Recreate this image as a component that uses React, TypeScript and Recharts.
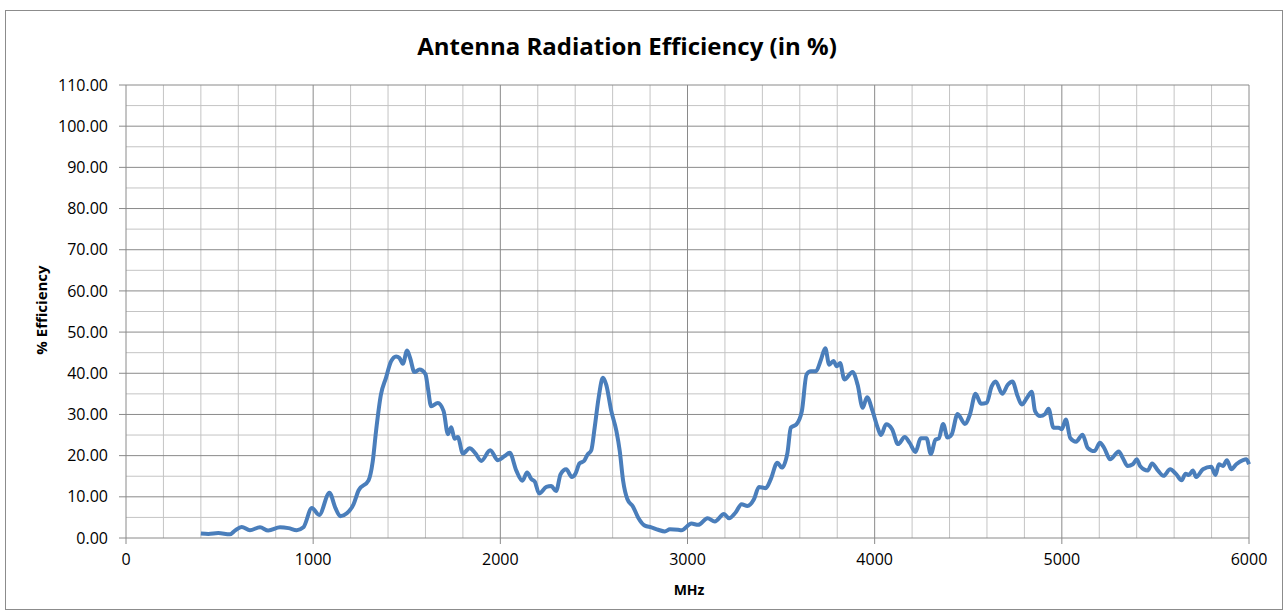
import React from 'react';
import { LineChart, Line, XAxis, YAxis, ReferenceLine } from 'recharts';

const freqMHz = [
  400, 440, 493, 555, 582, 618, 662, 716, 760, 823, 868, 912, 948, 993, 1032, 1087, 1118, 1145, 1180, 1216,
  1243, 1296, 1318, 1336, 1362, 1389, 1416, 1443, 1461, 1479, 1502, 1518, 1541, 1568, 1600, 1613, 1630, 1666,
  1697, 1720, 1738, 1755, 1773, 1800, 1836, 1868, 1898, 1946, 1987, 2023, 2050, 2086, 2118, 2143, 2166, 2184,
  2207, 2246, 2272, 2298, 2322, 2352, 2382, 2400, 2423, 2447, 2465, 2486, 2504, 2525, 2548, 2566, 2593, 2620,
  2638, 2656, 2679, 2709, 2736, 2772, 2807, 2843, 2879, 2906, 2950, 2968, 3021, 3057, 3107, 3146, 3195, 3222,
  3257, 3289, 3320, 3355, 3382, 3418, 3445, 3480, 3504, 3534, 3552, 3582, 3611, 3636, 3659, 3686, 3713, 3736,
  3757, 3780, 3797, 3815, 3838, 3882, 3909, 3936, 3959, 3989, 4016, 4034, 4061, 4093, 4125, 4161, 4187, 4218,
  4246, 4277, 4300, 4325, 4343, 4366, 4389, 4411, 4443, 4482, 4509, 4539, 4568, 4598, 4625, 4646, 4682, 4711,
  4736, 4764, 4786, 4813, 4839, 4857, 4884, 4911, 4929, 4955, 4982, 5000, 5021, 5045, 5076, 5111, 5138, 5174,
  5204, 5227, 5258, 5304, 5325, 5352, 5379, 5400, 5418, 5459, 5482, 5513, 5543, 5579, 5611, 5640, 5661, 5679,
  5700, 5718, 5754, 5798, 5821, 5839, 5861, 5882, 5905, 5932, 5968, 5986, 6000,
];

const efficiency = [
  1.1, 1.0, 1.2, 0.9, 1.8, 2.7, 1.9, 2.6, 1.8, 2.6, 2.4, 1.9, 2.6, 7.3, 5.6, 11.0, 7.4, 5.3, 6.0, 8.2,
  11.6, 14.0, 18.5, 26.0, 34.8, 38.9, 42.9, 44.1, 43.7, 42.3, 45.5, 43.7, 40.3, 40.9, 39.8, 36.4, 32.0, 32.8,
  30.8, 25.2, 26.9, 24.1, 24.5, 20.5, 21.8, 20.5, 18.7, 21.3, 18.9, 19.9, 20.7, 16.3, 13.9, 15.9, 14.3, 13.7,
  10.8, 12.4, 12.6, 11.4, 15.5, 16.7, 14.8, 15.5, 18.1, 18.7, 20.2, 21.3, 26.8, 34.0, 38.9, 37.2, 30.8, 26.0,
  21.1, 13.9, 9.4, 7.6, 5.0, 3.0, 2.6, 2.0, 1.6, 2.1, 2.0, 1.9, 3.5, 3.2, 4.8, 4.0, 5.8, 4.8,
  6.2, 8.2, 7.8, 9.4, 12.4, 12.1, 14.3, 18.3, 17.1, 20.7, 26.8, 27.6, 30.8, 39.7, 40.5, 40.5, 43.3, 46.1,
  42.1, 43.0, 41.7, 42.5, 38.5, 40.3, 37.2, 31.6, 34.2, 30.8, 26.8, 25.0, 27.6, 26.4, 22.8, 24.5, 23.1, 20.9,
  24.2, 24.2, 20.4, 23.9, 24.2, 27.7, 24.4, 25.1, 30.1, 27.7, 30.0, 35.0, 32.6, 32.8, 36.8, 38.0, 35.0, 37.2,
  38.0, 34.4, 32.4, 34.0, 35.5, 30.8, 29.6, 30.1, 31.4, 26.8, 26.8, 26.4, 28.8, 24.3, 23.4, 25.1, 21.9, 21.1,
  23.1, 21.8, 19.1, 21.0, 19.5, 17.5, 17.9, 19.1, 17.5, 16.4, 18.1, 16.4, 15.1, 16.7, 15.5, 14.0, 15.6, 15.3,
  16.4, 14.8, 16.7, 17.3, 15.3, 17.9, 17.5, 18.9, 16.7, 17.9, 18.9, 19.1, 17.9,
];

const xTicks = [0, 1000, 2000, 3000, 4000, 5000, 6000];
const yTicks = [0, 10, 20, 30, 40, 50, 60, 70, 80, 90, 100, 110];
const xMinor = [200, 400, 600, 800, 1200, 1400, 1600, 1800, 2200, 2400, 2600, 2800, 3200, 3400, 3600, 3800,
  4200, 4400, 4600, 4800, 5200, 5400, 5600, 5800];
const yMinor = [5, 15, 25, 35, 45, 55, 65, 75, 85, 95, 105];

const titleText = 'Antenna Radiation Efficiency (in %)';
const xLabel = 'MHz';
const yLabel = '% Efficiency';

const data = freqMHz.map((f, i) => ({ f, v: efficiency[i] }));

const FONT = '"Open Sans", sans-serif';
const MAJOR = '#8a8a8a';
const MINOR = '#c4c4c4';

export default function App() {
  return (
    <div style={{ position: 'absolute', left: 0, top: 0, width: 1288, height: 615, background: '#fff', fontFamily: FONT }}>
      <div style={{ position: 'absolute', left: 5, top: 10, width: 1278, height: 600, border: '1px solid #8c8c8c', boxSizing: 'border-box' }} />
      <div style={{ position: 'absolute', left: 0, top: 0 }}>
        <LineChart width={1288} height={615} data={data} margin={{ top: 85, right: 39, bottom: 47, left: 26 }}>
          <XAxis
            dataKey="f"
            type="number"
            domain={[0, 6000]}
            ticks={xTicks}
            height={30}
            tickSize={6}
            tickMargin={10}
            stroke={MAJOR}
            tick={{ fill: '#000', fontSize: 16, fontFamily: FONT }}
            interval={0}
          />
          <YAxis
            type="number"
            domain={[0, 110]}
            ticks={yTicks}
            width={100}
            tickSize={7}
            tickMargin={11}
            stroke={MAJOR}
            tick={{ fill: '#000', fontSize: 16, fontFamily: FONT }}
            tickFormatter={(v: number) => v.toFixed(2)}
            interval={0}
          />
          {xMinor.map((x) => (
            <ReferenceLine key={'xm' + x} x={x} stroke={MINOR} strokeWidth={1} />
          ))}
          {yMinor.map((y) => (
            <ReferenceLine key={'ym' + y} y={y} stroke={MINOR} strokeWidth={1} />
          ))}
          {xTicks.slice(1).map((x) => (
            <ReferenceLine key={'xM' + x} x={x} stroke={MAJOR} strokeWidth={1} />
          ))}
          {yTicks.slice(1).map((y) => (
            <ReferenceLine key={'yM' + y} y={y} stroke={MAJOR} strokeWidth={1} />
          ))}
          <Line
            type="monotone"
            dataKey="v"
            stroke="#4a7ebb"
            strokeWidth={4}
            dot={false}
            activeDot={false}
            isAnimationActive={false}
          />
        </LineChart>
      </div>
      <div style={{ position: 'absolute', left: 0, width: 1254, top: 30, textAlign: 'center', fontWeight: 700, fontSize: 24, color: '#000', lineHeight: '32px' }}>
        {titleText}
      </div>
      <div style={{ position: 'absolute', left: 589, width: 200, top: 580, textAlign: 'center', fontWeight: 700, fontSize: 14, color: '#000', lineHeight: '20px' }}>
        {xLabel}
      </div>
      <div style={{ position: 'absolute', left: 41 - 100, top: 310 - 10, width: 200, textAlign: 'center', fontWeight: 700, fontSize: 15, color: '#000', lineHeight: '20px', transform: 'rotate(-90deg)' }}>
        {yLabel}
      </div>
    </div>
  );
}
